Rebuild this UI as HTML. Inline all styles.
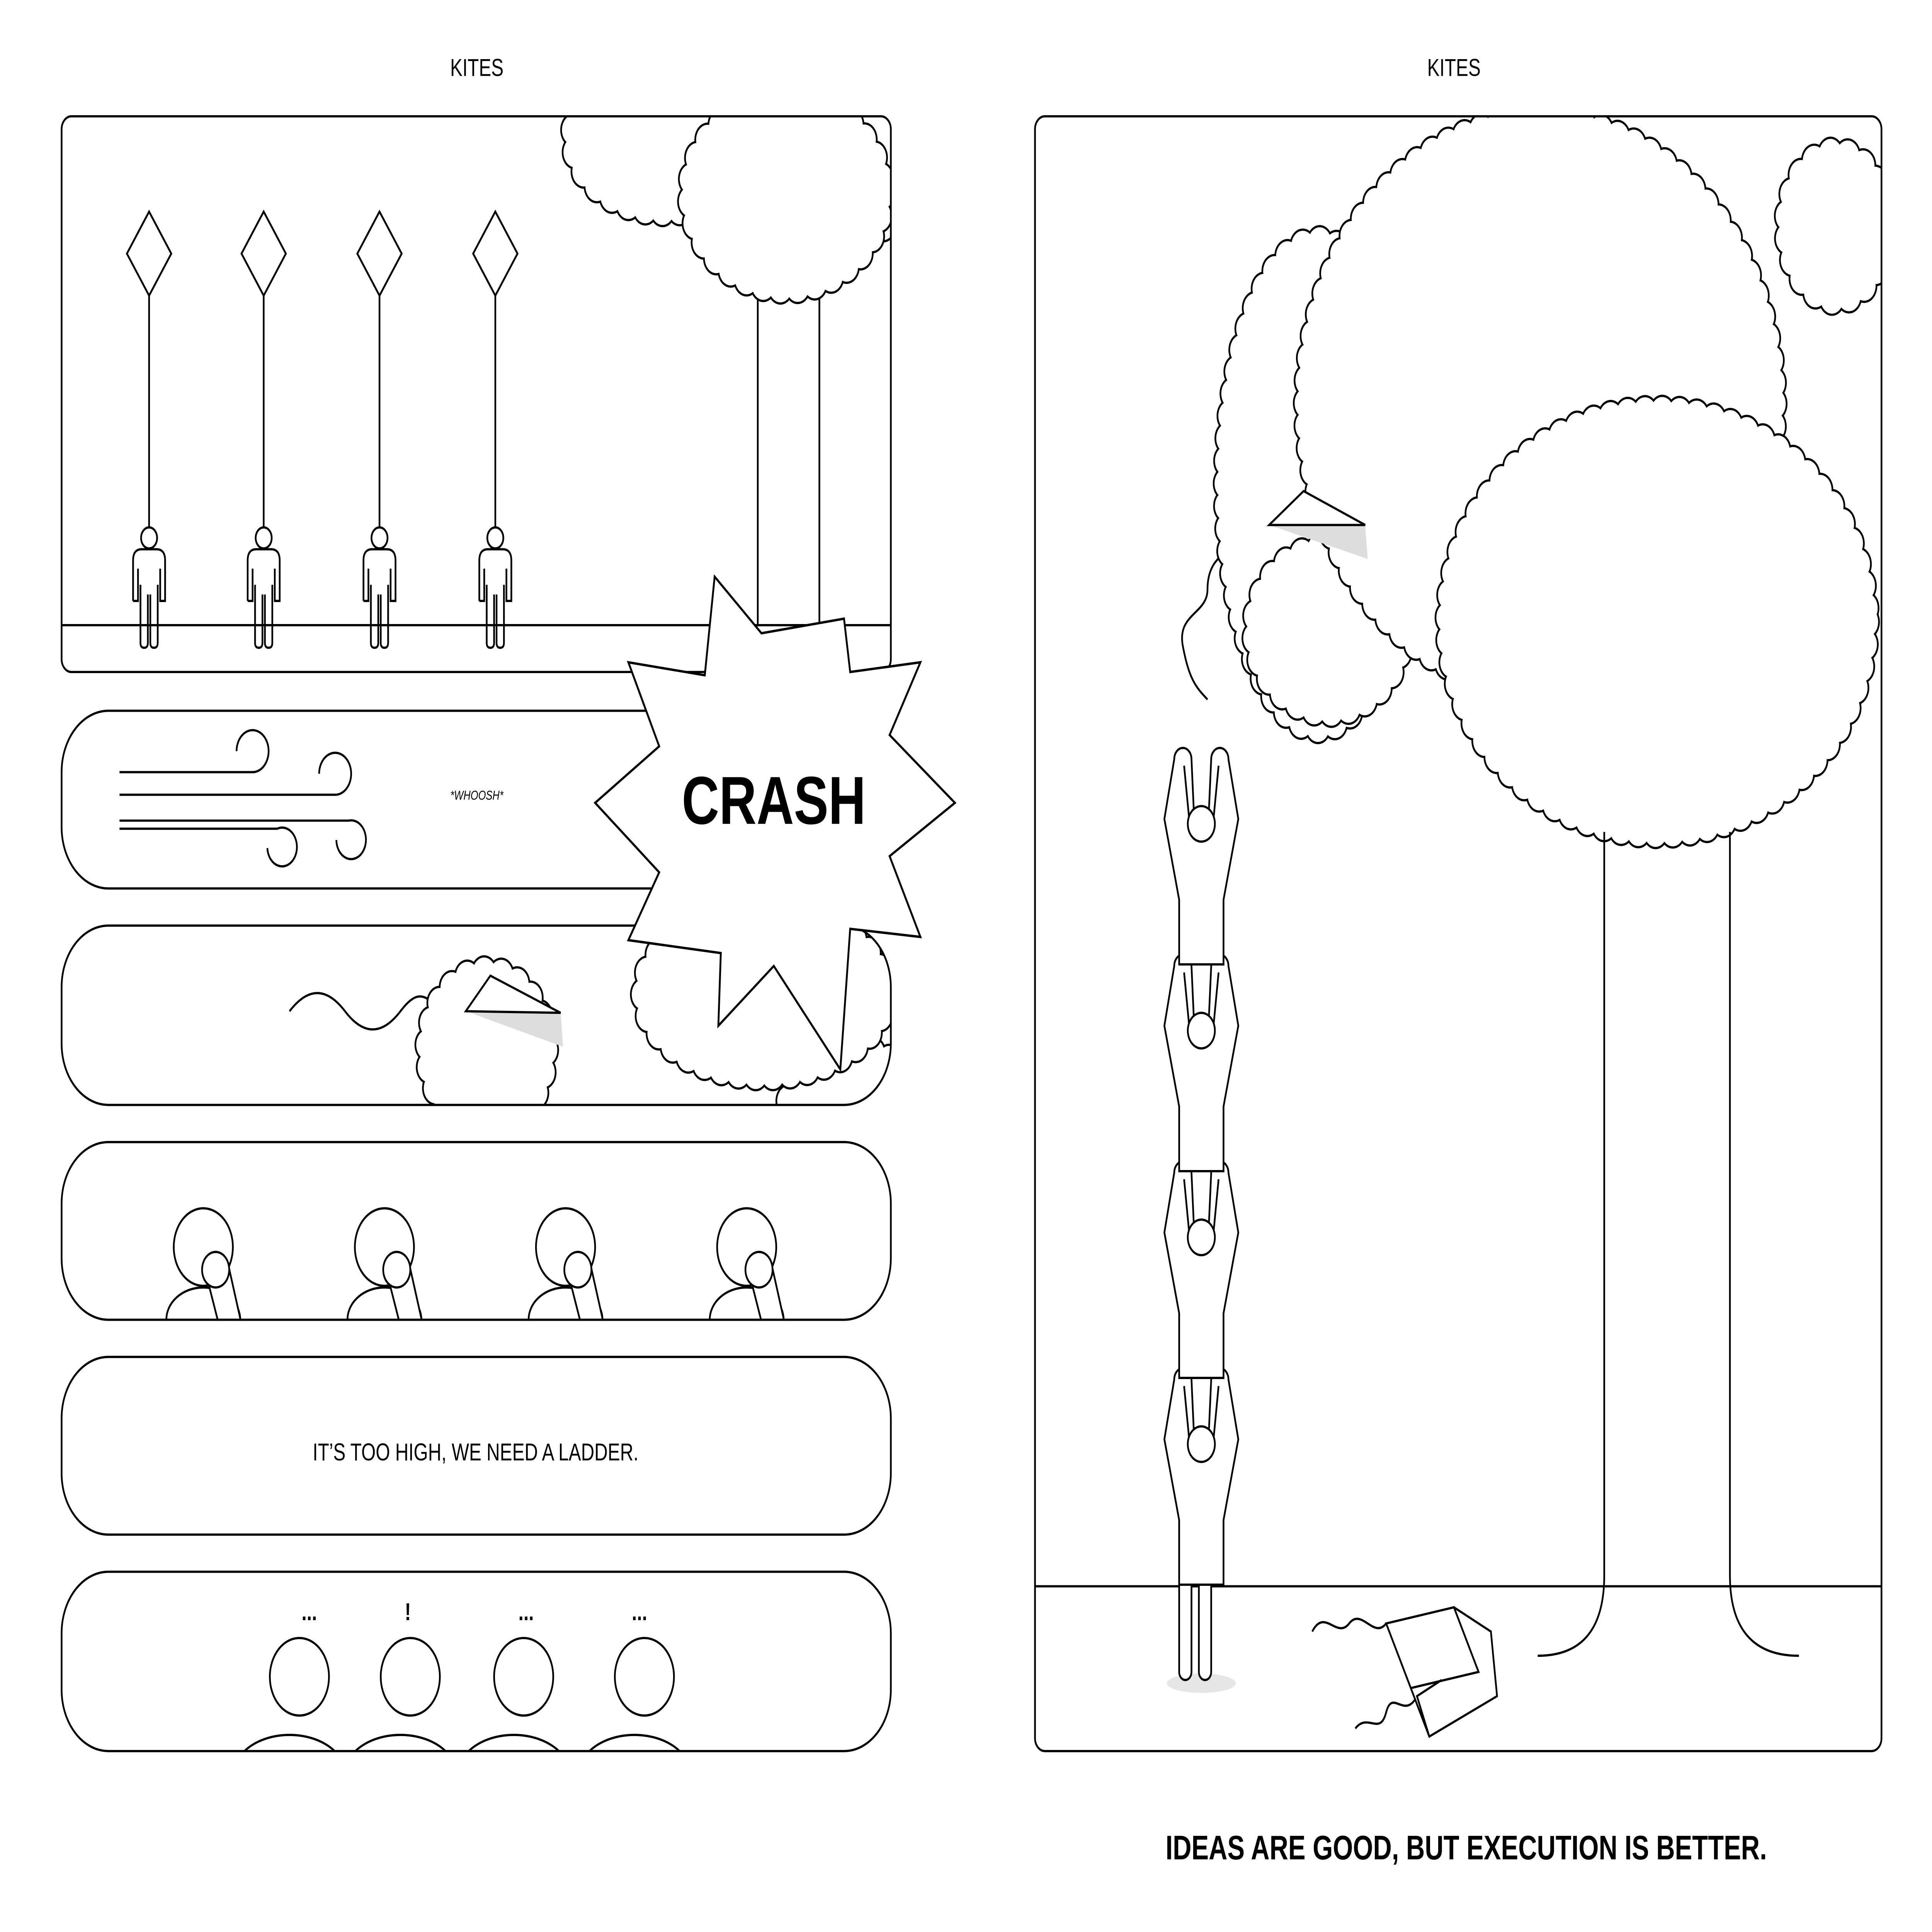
<!DOCTYPE html>
<html><head><meta charset="utf-8">
<style>
html,body{margin:0;padding:0;background:#fff;width:100%;height:100%;overflow:hidden;}
svg{display:block;width:100vw;height:100vh;}
text{font-family:"Liberation Sans",sans-serif;fill:#000;}
.cb{fill:none;stroke:#000;stroke-width:21.4;stroke-dasharray:0 14;stroke-linecap:round;}
.cw{fill:none;stroke:#fff;stroke-width:18.6;stroke-dasharray:0 14;stroke-linecap:round;}
.cf{fill:#fff;stroke:none;}
</style></head>
<body>
<svg xmlns="http://www.w3.org/2000/svg" xmlns:xlink="http://www.w3.org/1999/xlink" viewBox="0 0 1568 1196" preserveAspectRatio="none">
<defs>
<clipPath id="c1"><rect x="50" y="72" width="673" height="344" rx="8"/></clipPath>
<clipPath id="c3"><rect x="50" y="573" width="673" height="111" rx="38"/></clipPath>
<clipPath id="c4"><rect x="50" y="707" width="673" height="110" rx="38"/></clipPath>
<clipPath id="c6"><rect x="50" y="973" width="673" height="111" rx="38"/></clipPath>
<clipPath id="cr"><rect x="840" y="72" width="687" height="1012" rx="8"/></clipPath>
<g id="kite" fill="none" stroke="#000" stroke-width="1.4">
<path d="M0 131 L18 157 L0 183 L-18 157 Z"/>
<line x1="0" y1="183" x2="0" y2="327"/>
<circle cx="0" cy="333" r="6.5" fill="#fff"/>
<path d="M-13 372 V347 q0 -7 7 -7 h12 q7 0 7 7 V372 h-4 V352 M-13 372 h4 V352 M-7 362 V398 q0 3 3 3 q3 0 3 -3 V368 M1 368 V398 q0 3 3 3 q3 0 3 -3 V362"/>
</g>
<g id="p4u" fill="#fff" stroke="#000" stroke-width="1.4">
<path d="M-30 817 a30 20 0 0 1 60 0"/>
<circle cx="0" cy="772" r="24"/>
<path d="M2 788 L16 830 L34 830 L20 782 Z"/>
<circle cx="10" cy="786" r="11"/>
</g>
<g id="p6u" fill="#fff" stroke="#000" stroke-width="1.4">
<circle cx="0" cy="1038" r="24"/>
<ellipse cx="-8" cy="1098" rx="45" ry="24"/>
</g>
<g id="lad" fill="#fff" stroke="#000" stroke-width="1.4">
<path d="M-22 8 a7 7 0 0 1 14 0 L-6 42 L6 42 L8 8 a7 7 0 0 1 14 0 L30 45 L18 95 V135 H-18 V95 L-30 45 Z"/>
<path d="M-14 12 L-10 44 M14 12 L10 44" fill="none"/>
<circle cx="0" cy="48" r="11"/>
</g>
</defs>
<rect width="1568" height="1196" fill="#fff"/>
<text x="387" y="47" font-size="15" text-anchor="middle">KITES</text>
<text x="1180" y="47" font-size="15" text-anchor="middle">KITES</text>

<g fill="none" stroke="#000" stroke-width="1.4">
<g clip-path="url(#c1)">
<line x1="50" y1="387" x2="723" y2="387"/>
<line x1="615" y1="170" x2="615" y2="387"/>
<line x1="665" y1="170" x2="665" y2="387"/>
<ellipse class="cb" cx="540" cy="85" rx="75" ry="45"/><ellipse class="cw" cx="540" cy="85" rx="75" ry="45"/><ellipse class="cf" cx="540" cy="85" rx="73" ry="43"/>
<ellipse class="cb" cx="710" cy="100" rx="40" ry="40"/><ellipse class="cw" cx="710" cy="100" rx="40" ry="40"/><ellipse class="cf" cx="710" cy="100" rx="38" ry="38"/>
<ellipse class="cb" cx="638" cy="120" rx="78" ry="58"/><ellipse class="cw" cx="638" cy="120" rx="78" ry="58"/><ellipse class="cf" cx="638" cy="120" rx="76" ry="56"/>
</g>
<rect x="50" y="72" width="673" height="344" rx="8"/>
<use xlink:href="#kite" x="121"/>
<use xlink:href="#kite" x="214"/>
<use xlink:href="#kite" x="308"/>
<use xlink:href="#kite" x="402"/>

<rect x="50" y="440" width="673" height="110" rx="38"/>
<path d="M97 478 H205 a13 13 0 1 0 -13 -13"/>
<path d="M97 492 H272 a13 13 0 1 0 -13 -13"/>
<path d="M97 508 H283 a12 12 0 1 1 -10 12"/>
<path d="M97 513 H225 a12 12 0 1 1 -8 12"/>

<g clip-path="url(#c3)">
<path d="M235 626 c15 -15 30 -15 45 0 s30 15 45 0 s20 -8 30 -4"/>
<ellipse class="cb" cx="395" cy="650" rx="48" ry="48"/><ellipse class="cw" cx="395" cy="650" rx="48" ry="48"/><ellipse class="cf" cx="395" cy="650" rx="46" ry="46"/>
<ellipse class="cb" cx="690" cy="680" rx="50" ry="30"/><ellipse class="cw" cx="690" cy="680" rx="50" ry="30"/><ellipse class="cf" cx="690" cy="680" rx="48" ry="28"/>
<ellipse class="cb" cx="620" cy="615" rx="98" ry="50"/><ellipse class="cw" cx="620" cy="615" rx="98" ry="50"/><ellipse class="cf" cx="620" cy="615" rx="96" ry="48"/>
<path d="M378 626 L455 627 L457 648 Z" fill="#ddd" stroke="none"/>
<path d="M378 626 L398 604 L455 627 Z" fill="#fff"/>
</g>
<rect x="50" y="573" width="673" height="111" rx="38"/>

<g clip-path="url(#c4)">
<use xlink:href="#p4u" x="165"/><use xlink:href="#p4u" x="312"/><use xlink:href="#p4u" x="459"/><use xlink:href="#p4u" x="606"/>
</g>
<rect x="50" y="707" width="673" height="110" rx="38"/>

<rect x="50" y="840" width="673" height="110" rx="38"/>

<g clip-path="url(#c6)">
<use xlink:href="#p6u" x="243"/><use xlink:href="#p6u" x="333"/><use xlink:href="#p6u" x="425"/><use xlink:href="#p6u" x="523"/>
</g>
<rect x="50" y="973" width="673" height="111" rx="38"/>

<g clip-path="url(#cr)">
<line x1="840" y1="982" x2="1527" y2="982"/>
<path d="M1010 340 c-20 0 -30 10 -30 25 s-25 15 -20 35 s10 25 20 33"/>
<ellipse class="cb" cx="1490" cy="140" rx="40" ry="45"/><ellipse class="cw" cx="1490" cy="140" rx="40" ry="45"/><ellipse class="cf" cx="1490" cy="140" rx="38" ry="43"/>
<ellipse class="cb" cx="1070" cy="300" rx="75" ry="150"/><ellipse class="cw" cx="1070" cy="300" rx="75" ry="150"/><ellipse class="cf" cx="1070" cy="300" rx="73" ry="148"/>
<ellipse class="cb" cx="1078" cy="390" rx="60" ry="50"/><ellipse class="cw" cx="1078" cy="390" rx="60" ry="50"/><ellipse class="cf" cx="1078" cy="390" rx="58" ry="48"/>
<ellipse class="cb" cx="1250" cy="250" rx="190" ry="175"/><ellipse class="cw" cx="1250" cy="250" rx="190" ry="175"/><ellipse class="cf" cx="1250" cy="250" rx="188" ry="173"/>
<ellipse class="cb" cx="1345" cy="385" rx="170" ry="130"/><ellipse class="cw" cx="1345" cy="385" rx="170" ry="130"/><ellipse class="cf" cx="1345" cy="385" rx="168" ry="128"/>
<path d="M1302 515 V975 Q1302 1025 1248 1025"/>
<path d="M1404 515 V975 Q1404 1025 1460 1025"/>
<path d="M1030 325 L1108 325 L1110 346 Z" fill="#ddd" stroke="none"/>
<path d="M1030 325 L1058 304 L1108 325 Z" fill="#fff"/>
</g>
<rect x="840" y="72" width="687" height="1012" rx="8"/>

<ellipse cx="975" cy="1042" rx="28" ry="6" fill="#e6e6e6" stroke="none"/>
<path d="M957 940 V1035 a5 5 0 0 0 10 0 V980 a3 3 0 0 1 6 0 V1035 a5 5 0 0 0 10 0 V940" fill="#fff"/>
<use xlink:href="#lad" x="975" y="846"/>
<use xlink:href="#lad" x="975" y="718"/>
<use xlink:href="#lad" x="975" y="590"/>
<use xlink:href="#lad" x="975" y="462"/>

<path d="M1065 1010 c10 -15 20 5 30 -5 s20 10 30 0"/>
<path d="M1100 1070 c10 -10 20 5 25 -10 s15 5 25 -10"/>
<path d="M1145 1045 L1160 1075 L1215 1050 L1210 1010 L1180 995" fill="#fff"/>
<path d="M1125 1005 L1180 995 L1200 1035 L1145 1045 Z" fill="#fff"/>
<path d="M1160 1075 L1150 1050 L1170 1040"/>

<path fill="#fff" stroke-width="1.5" d="M580 357 L618 392 L685 383 L690 416 L747 410 L722 455 L775 497 L722 530 L747 580 L690 575 L682 662 L628 598 L583 635 L585 590 L510 582 L535 540 L483 497 L535 462 L510 410 L572 418 Z"/>
</g>

<text x="387" y="495" font-size="8" font-style="italic" text-anchor="middle">*WHOOSH*</text>
<text x="628" y="510" font-size="42" font-weight="bold" text-anchor="middle">CRASH</text>
<text x="386" y="904" font-size="15" text-anchor="middle">IT’S TOO HIGH, WE NEED A LADDER.</text>
<text x="251" y="1003" font-size="15" font-weight="bold" text-anchor="middle">...</text>
<text x="331" y="1003" font-size="15" font-weight="bold" text-anchor="middle">!</text>
<text x="427" y="1003" font-size="15" font-weight="bold" text-anchor="middle">...</text>
<text x="519" y="1003" font-size="15" font-weight="bold" text-anchor="middle">...</text>
<text x="1190" y="1151" font-size="21" font-weight="bold" text-anchor="middle">IDEAS ARE GOOD, BUT EXECUTION IS BETTER.</text>
</svg>
</body></html>
